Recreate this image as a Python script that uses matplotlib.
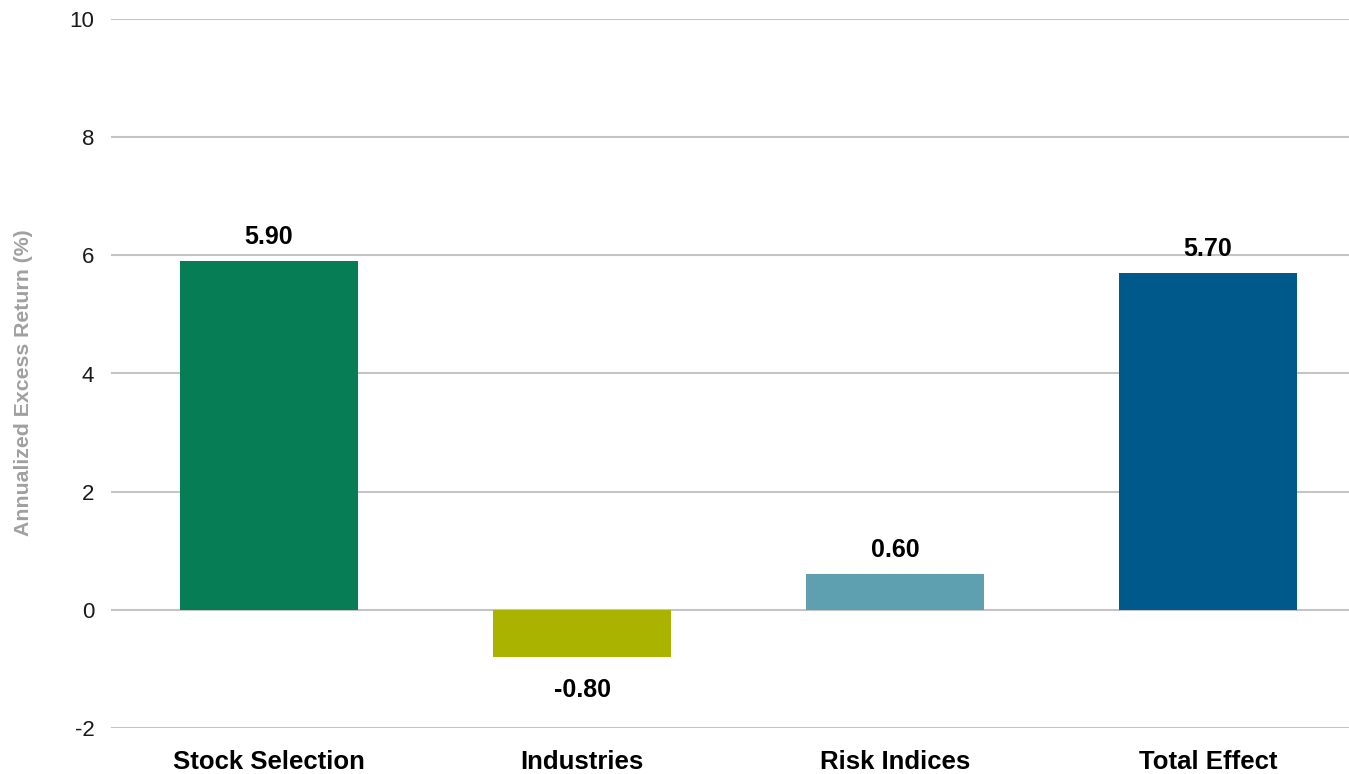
import matplotlib.pyplot as plt

categories = ["Stock Selection", "Industries", "Risk Indices", "Total Effect"]
values = [5.90, -0.80, 0.60, 5.70]
colors = ["#077D55", "#AAB400", "#5E9FB0", "#00598B"]
yticks = [-2, 0, 2, 4, 6, 8, 10]

plt.rcParams["font.family"] = ["Liberation Sans", "DejaVu Sans"]

fig = plt.figure(figsize=(13.49, 7.74), dpi=100)
ax = fig.add_axes([111 / 1349, 1 - 728 / 774, 1 - 111 / 1349, (728 - 19) / 774])

x = list(range(len(categories)))
bars = ax.bar(x, values, width=0.57, color=colors, zorder=3)

for xi, v in zip(x, values):
    if v >= 0:
        ax.annotate(f"{v:.2f}", (xi, v), xytext=(0, 9), textcoords="offset points",
                    ha="center", va="bottom", fontsize=18, fontweight="bold")
    else:
        ax.annotate(f"{v:.2f}", (xi, v), xytext=(0, -15), textcoords="offset points",
                    ha="center", va="top", fontsize=18, fontweight="bold")

ax.set_xlim(-0.505, 3.45)
ax.set_ylim(-2, 10)
ax.set_yticks(yticks)
ax.set_yticklabels([str(t) for t in yticks], fontsize=16, color="#1a1a1a")
ax.set_xticks(x)
ax.set_xticklabels(categories, fontsize=18.5, fontweight="bold")
ax.tick_params(axis="y", length=0, pad=12)
ax.tick_params(axis="x", length=0, pad=16)
ax.grid(axis="y", color="#c4c4c4", linewidth=1.5, zorder=0)
for s in ax.spines.values():
    s.set_visible(False)

ax.set_ylabel("Annualized Excess Return (%)", fontsize=15.3, fontweight="bold", color="#a0a0a0")
ax.yaxis.set_label_coords(-0.063, 0.487)

fig.savefig("out.png", dpi=100)
